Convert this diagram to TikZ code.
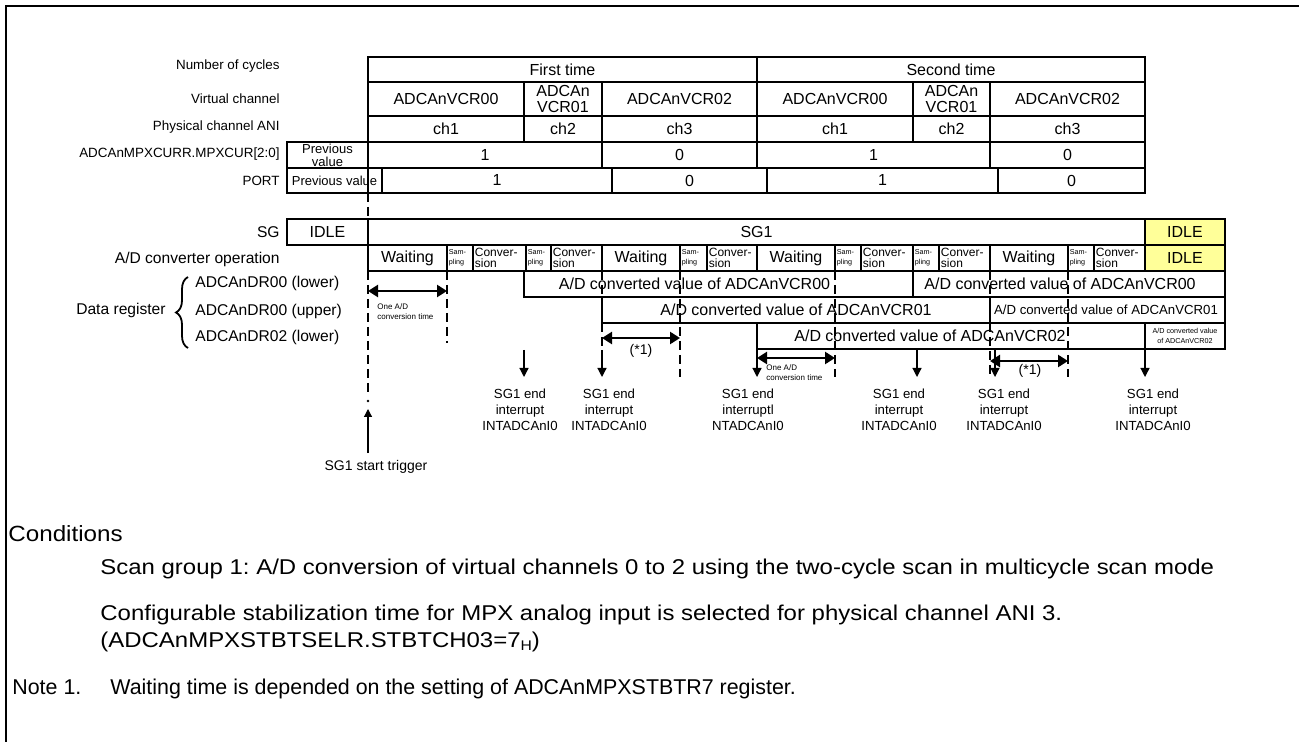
\documentclass[tikz,border=0pt]{standalone}
\usepackage{fontspec}
\setmainfont{Liberation Sans}
\usetikzlibrary{arrows.meta,decorations.pathreplacing}
\definecolor{idleyellow}{RGB}{255,255,153}
\frenchspacing
\newcommand{\fs}[2]{\fontsize{#1}{#2}\selectfont}
\newcommand{\tcell}[7][]{%
  \draw[tbl,#1] (#2,#3) rectangle (#4,#5);
  \node[txt,#1] (#6) at ({(#2+#4)/2},{(#3+#5)/2}) {#7};}
\newcommand{\lcell}[7][]{%
  \draw[tbl] (#2,#3) rectangle (#4,#5);
  \node[txt,anchor=west,align=left,#1] (#6) at ({#2+1.5},{(#3+#5)/2}) {#7};}
\begin{document}
\begin{tikzpicture}[x=0.5pt,y=-0.5pt,
  tbl/.style={line width=1pt},
  txt/.style={inner sep=0pt,font=\fs{8}{8},align=center},
  lab/.style={inner sep=0pt,font=\fs{6.7}{8},anchor=east},
  labb/.style={inner sep=0pt,font=\fs{7.8}{9},anchor=east},
  samp/.style={font=\fs{3.6}{5}},
  conv/.style={font=\fs{6}{5.5}},
  dsh/.style={line width=1.2pt,dash pattern=on 4.5pt off 2.5pt},
  dbl/.style={line width=1.2pt,{Triangle[length=5pt,width=6pt]}-{Triangle[length=5pt,width=6pt]}},
  intr/.style={line width=0.6pt,-{Triangle[length=4.5pt,width=4.5pt]}},
  intlab/.style={inner sep=0pt,font=\fs{6.6}{8},align=center},
  tiny/.style={inner sep=0pt,font=\fs{4}{5},align=left,anchor=north west},
  note/.style={inner sep=0pt,font=\fs{10.7}{12},anchor=base west}]
\useasboundingbox (0,0) rectangle (1299,742);
% frame
\draw[line width=1.15pt] (6,742) -- (6,6) -- (1299,6);

% left labels
\node[lab] (lcyc) at (280,66) {Number of cycles};
\node[lab] (lvc) at (280,99) {Virtual channel};
\node[lab] (lpc) at (280,127) {Physical channel ANI};
\node[lab] (lmpx) at (280,154) {ADCAnMPXCURR.MPXCUR[2:0]};
\node[lab] (lport) at (280,181) {PORT};
\node[labb] (lsg) at (280,232) {SG};
\node[labb] (lop) at (280,259) {A/D converter operation};
\node[labb] (ldr) at (166,310) {Data register};
\node[labb,anchor=west] (ldr0l) at (195,283) {ADCAnDR00 (lower)};
\node[labb,anchor=west] (ldr0u) at (195,311) {ADCAnDR00 (upper)};
\node[labb,anchor=west] (ldr2l) at (195,337) {ADCAnDR02 (lower)};
\draw[line width=0.9pt,decorate,decoration={brace,amplitude=6pt}] (188,348) -- (188,277);

% row 1
\tcell{368}{57}{757}{82}{c1}{First time}
\tcell{757}{57}{1145}{82}{c2}{Second time}
% row 2
\tcell{368}{82}{524}{116}{v1}{ADCAnVCR00}
\tcell{524}{82}{602}{116}{v2}{ADCAn\\VCR01}
\tcell{602}{82}{757}{116}{v3}{ADCAnVCR02}
\tcell{757}{82}{913}{116}{v4}{ADCAnVCR00}
\tcell{913}{82}{990}{116}{v5}{ADCAn\\VCR01}
\tcell{990}{82}{1145}{116}{v6}{ADCAnVCR02}
% row 3
\tcell{368}{116}{524}{142}{p1}{ch1}
\tcell{524}{116}{602}{142}{p2}{ch2}
\tcell{602}{116}{757}{142}{p3}{ch3}
\tcell{757}{116}{913}{142}{p4}{ch1}
\tcell{913}{116}{990}{142}{p5}{ch2}
\tcell{990}{116}{1145}{142}{p6}{ch3}
% row 4
\tcell[font=\fs{6.5}{6.5}]{287}{142}{368}{168}{m0}{Previous\\value}
\tcell{368}{142}{602}{168}{m1}{1}
\tcell{602}{142}{757}{168}{m2}{0}
\tcell{757}{142}{990}{168}{m3}{1}
\tcell{990}{142}{1145}{168}{m4}{0}
% row 5
\tcell[font=\fs{6.5}{6.5}]{287}{168}{382}{193}{o0}{Previous value}
\tcell{382}{168}{612}{193}{o1}{1}
\tcell{612}{168}{767}{193}{o2}{0}
\tcell{767}{168}{998}{193}{o3}{1}
\tcell{998}{168}{1145}{193}{o4}{0}

% SG row
\tcell{287}{219}{368}{245}{sg0}{IDLE}
\tcell{368}{219}{1145}{245}{sg1}{SG1}
\tcell[fill=idleyellow]{1145}{219}{1225}{245}{sg2}{IDLE}

% A/D operation row
\tcell{368}{245}{447}{271}{w1}{Waiting}
\lcell[samp]{447}{245}{473}{271}{s1}{Sam-\\pling}
\lcell[conv]{473}{245}{526}{271}{k1}{Conver-\\sion}
\lcell[samp]{526}{245}{551}{271}{s2}{Sam-\\pling}
\lcell[conv]{551}{245}{602}{271}{k2}{Conver-\\sion}
\tcell{602}{245}{680}{271}{w2}{Waiting}
\lcell[samp]{680}{245}{707}{271}{s3}{Sam-\\pling}
\lcell[conv]{707}{245}{757}{271}{k3}{Conver-\\sion}
\tcell{757}{245}{835}{271}{w3}{Waiting}
\lcell[samp]{835}{245}{861}{271}{s4}{Sam-\\pling}
\lcell[conv]{861}{245}{913}{271}{k4}{Conver-\\sion}
\lcell[samp]{913}{245}{939}{271}{s5}{Sam-\\pling}
\lcell[conv]{939}{245}{990}{271}{k5}{Conver-\\sion}
\tcell{990}{245}{1068}{271}{w4}{Waiting}
\lcell[samp]{1068}{245}{1094}{271}{s6}{Sam-\\pling}
\lcell[conv]{1094}{245}{1145}{271}{k6}{Conver-\\sion}
\tcell[fill=idleyellow]{1145}{245}{1225}{271}{op7}{IDLE}

% data register rows
\draw[tbl] (524,271) rectangle (913,297);
\draw[tbl] (913,271) rectangle (1225,297);
\draw[tbl] (602,297) rectangle (990,323);
\draw[tbl] (990,297) rectangle (1225,323);
\draw[tbl] (757,323) rectangle (1145,349);
\draw[tbl] (1145,323) rectangle (1225,349);
\node[txt] (d1) at (694.5,284) {A/D converted value of ADCAnVCR00};
\node[txt] (d2) at (1060,284) {A/D converted value of ADCAnVCR00};
\node[txt] (d3) at (796,310) {A/D converted value of ADCAnVCR01};
\node[txt,font=\fs{6.6}{7}] (d4) at (1106,310) {A/D converted value of ADCAnVCR01};
\node[txt] (d5) at (930,336) {A/D converted value of ADCAnVCR02};
\node[txt,font=\fs{3.6}{5}] (d6) at (1185,336) {A/D converted value\\of ADCAnVCR02};

% dashed guide lines
\draw[tbl] (368,168) -- (368,193);
\draw[dsh] (368,193) -- (368,219);
\draw[dsh] (368,271) -- (368,394);
\fill (368,401) circle (1.3);
\draw[dsh] (447,271) -- (447,343);
\draw[dsh] (602,271) -- (602,297);
\draw[dsh] (602,323) -- (602,362);
\draw[dsh] (680,271) -- (680,377);
\draw[dsh] (835,271) -- (835,377);
\draw[dsh] (990,271) -- (990,297);
\draw[dsh] (990,323) -- (990,377);
\draw[dsh] (1068,271) -- (1068,377);

% one A/D conversion time / (*1)
\coordinate (a1l) at (368,291); \coordinate (a1r) at (447,291);
\draw[dbl] (a1l) -- (a1r);
\node[tiny] (t1) at (377,303) {One A/D\\conversion time};
\coordinate (a2l) at (602,338); \coordinate (a2r) at (680,338);
\draw[dbl] (a2l) -- (a2r);
\node[txt,font=\fs{7}{7}] (n1) at (641,351) {(*1)};
\coordinate (a3l) at (757,358); \coordinate (a3r) at (835,358);
\draw[dbl] (a3l) -- (a3r);
\node[tiny] (t2) at (766,364) {One A/D\\conversion time};
\coordinate (a4l) at (990,361); \coordinate (a4r) at (1068,361);
\draw[dbl] (a4l) -- (a4r);
\node[txt,font=\fs{7}{7}] (n2) at (1030,371) {(*1)};

% end interrupts
\foreach \x/\n in {524/1,602/2,757/3,917/4,995/5,1145/6}{
  \coordinate (it\n) at (\x,350);
  \coordinate (ib\n) at (\x,377);
  \draw[intr] (it\n) -- (ib\n);
}
\node[intlab] (i1) at (520,410) {SG1 end\\interrupt\\INTADCAnI0};
\node[intlab] (i2) at (609,410) {SG1 end\\interrupt\\INTADCAnI0};
\node[intlab] (i3) at (748,410) {SG1 end\\interruptl\\NTADCAnI0};
\node[intlab] (i4) at (899,410) {SG1 end\\interrupt\\INTADCAnI0};
\node[intlab] (i5) at (1004,410) {SG1 end\\interrupt\\INTADCAnI0};
\node[intlab] (i6) at (1153,410) {SG1 end\\interrupt\\INTADCAnI0};

% start trigger
\node[txt,font=\fs{7}{7}] (st) at (376,467) {SG1 start trigger};
\coordinate (stb) at (368,453);
\coordinate (stt) at (368,409);
\draw[line width=0.6pt,-{Triangle[length=4pt,width=4pt]}] (stb) -- (stt);

% conditions
\node[note,font=\fs{11}{12}] (cond) at (8,541) {\scalebox{1.1}[1]{Conditions}};
\node[note] (c1t) at (100,574) {\scalebox{1.12}[1]{Scan group 1: A/D conversion of virtual channels 0 to 2 using the two-cycle scan in multicycle scan mode}};
\node[note] (c2t) at (100,620) {\scalebox{1.12}[1]{Configurable stabilization time for MPX analog input is selected for physical channel ANI 3.}};
\node[note] (c3t) at (100,647) {\scalebox{1.12}[1]{(ADCAnMPXSTBTSELR.STBTCH03=7\raisebox{-0.3ex}{\fs{7}{7}H})}};
\node[note] (nt1) at (12,694) {Note 1.};
\node[note] (nt2) at (110,694) {Waiting time is depended on the setting of ADCAnMPXSTBTR7 register.};
\end{tikzpicture}
\end{document}
